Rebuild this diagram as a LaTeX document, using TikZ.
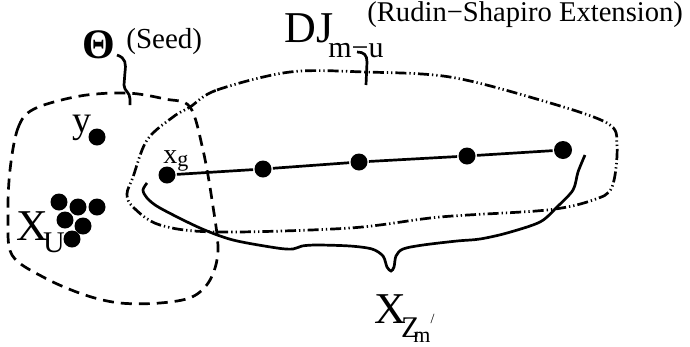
\documentclass[tikz,border=0pt]{standalone}
\usepackage{fontspec}
\setmainfont{Liberation Serif}
\newcommand{\fsz}[1]{\fontsize{#1}{#1}\selectfont}

\begin{document}
\begin{tikzpicture}[x=1pt, y=-1pt, line width=2.7pt,
  dot/.style={circle, fill=black, inner sep=0pt, minimum size=17pt},
  lbl/.style={anchor=base west, inner sep=0pt},
  seedline/.style={dash pattern=on 11pt off 7pt},
  extline/.style={dash pattern=on 11pt off 3pt on 1.3pt off 3pt on 1.3pt off 3pt}
]
  \useasboundingbox (0,0) rectangle (690,346);

  % seed region
  \draw[seedline] plot[smooth cycle, tension=0.55] coordinates {
    (10,170) (18,128) (34,109) (80,96) (127,93) (165,99) (190,107)
    (203,150) (212,200) (218,250) (210,280) (192,297) (160,303)
    (120,303) (85,295) (45,278) (12,255) (8,215)};

  % extension region
  \draw[extline] plot[smooth cycle, tension=0.55] coordinates {
    (190,107) (217,90) (290,72) (365,72) (450,77) (540,100) (607,123)
    (617,145) (612,187) (593,200) (547,210) (440,217) (350,228)
    (217,232) (160,225) (133,207) (127,194) (133,177) (147,140) (173,117)};

  % points
  \node[dot] (y) at (97,137) {};
  \node[dot] (u1) at (59,202) {};
  \node[dot] (u2) at (78,207) {};
  \node[dot] (u3) at (97,207) {};
  \node[dot] (u4) at (65,220) {};
  \node[dot] (u5) at (83,226) {};
  \node[dot] (u6) at (72,239) {};
  \node[dot] (g1) at (167,175) {};
  \node[dot] (g2) at (263,169) {};
  \node[dot] (g3) at (359,162) {};
  \node[dot] (g4) at (467,156) {};
  \node[dot, minimum size=18pt] (g5) at (563,150) {};
  \draw (g1) -- (g2) -- (g3) -- (g4) -- (g5);

  % labels
  \node[lbl] (theta) at (81,58) {\fsz{42}\bfseries Θ};
  \node[lbl] (seed) at (125,48) {\fsz{29}(Seed)};
  \node[lbl] (dj) at (283,42) {\fsz{44}DJ\kern-5pt\raisebox{-15pt}{\fsz{30}m−u}};
  \node[lbl] (rudin) at (366,21) {\fsz{28.6}(Rudin−Shapiro Extension)};
  \node[lbl] (ylbl) at (71,132) {\fsz{38}y};
  \node[lbl] (xg) at (162,163) {\fsz{28}x\raisebox{-3pt}{\fsz{22}g}};
  \node[lbl] (xu) at (15,240) {\fsz{44}X\kern-5pt\raisebox{-12pt}{\fsz{30}U}};
  \node[lbl] (xz) at (373,323) {\fsz{44}X\kern-5pt\raisebox{-14pt}{\fsz{30}Z\kern-6pt\raisebox{-5pt}{\fsz{22}m}\raisebox{14pt}{\fsz{14}/}}};

  % braces
  \draw (117,55) .. controls (126,58) and (126,64) .. (125,72)
    -- (124,85) .. controls (124,91) and (130,92) .. (130,99) -- (130,105);
  \draw (357,52) .. controls (364,52) and (367,55) .. (367,62) -- (366,85);
  \draw plot[smooth, tension=0.5] coordinates {
    (147,183) (143,190) (147,198) (160,208) (200,228) (233,240)
    (277,248) (293,249) (302,246) (317,245) (350,246) (372,249)
    (383,256) (387,267) (391,271) (394,267) (396,256) (403,249)
    (423,245) (457,241) (480,239) (507,233) (540,222) (557,207)
    (573,190) (578,172) (585,155)};
\end{tikzpicture}
\end{document}
